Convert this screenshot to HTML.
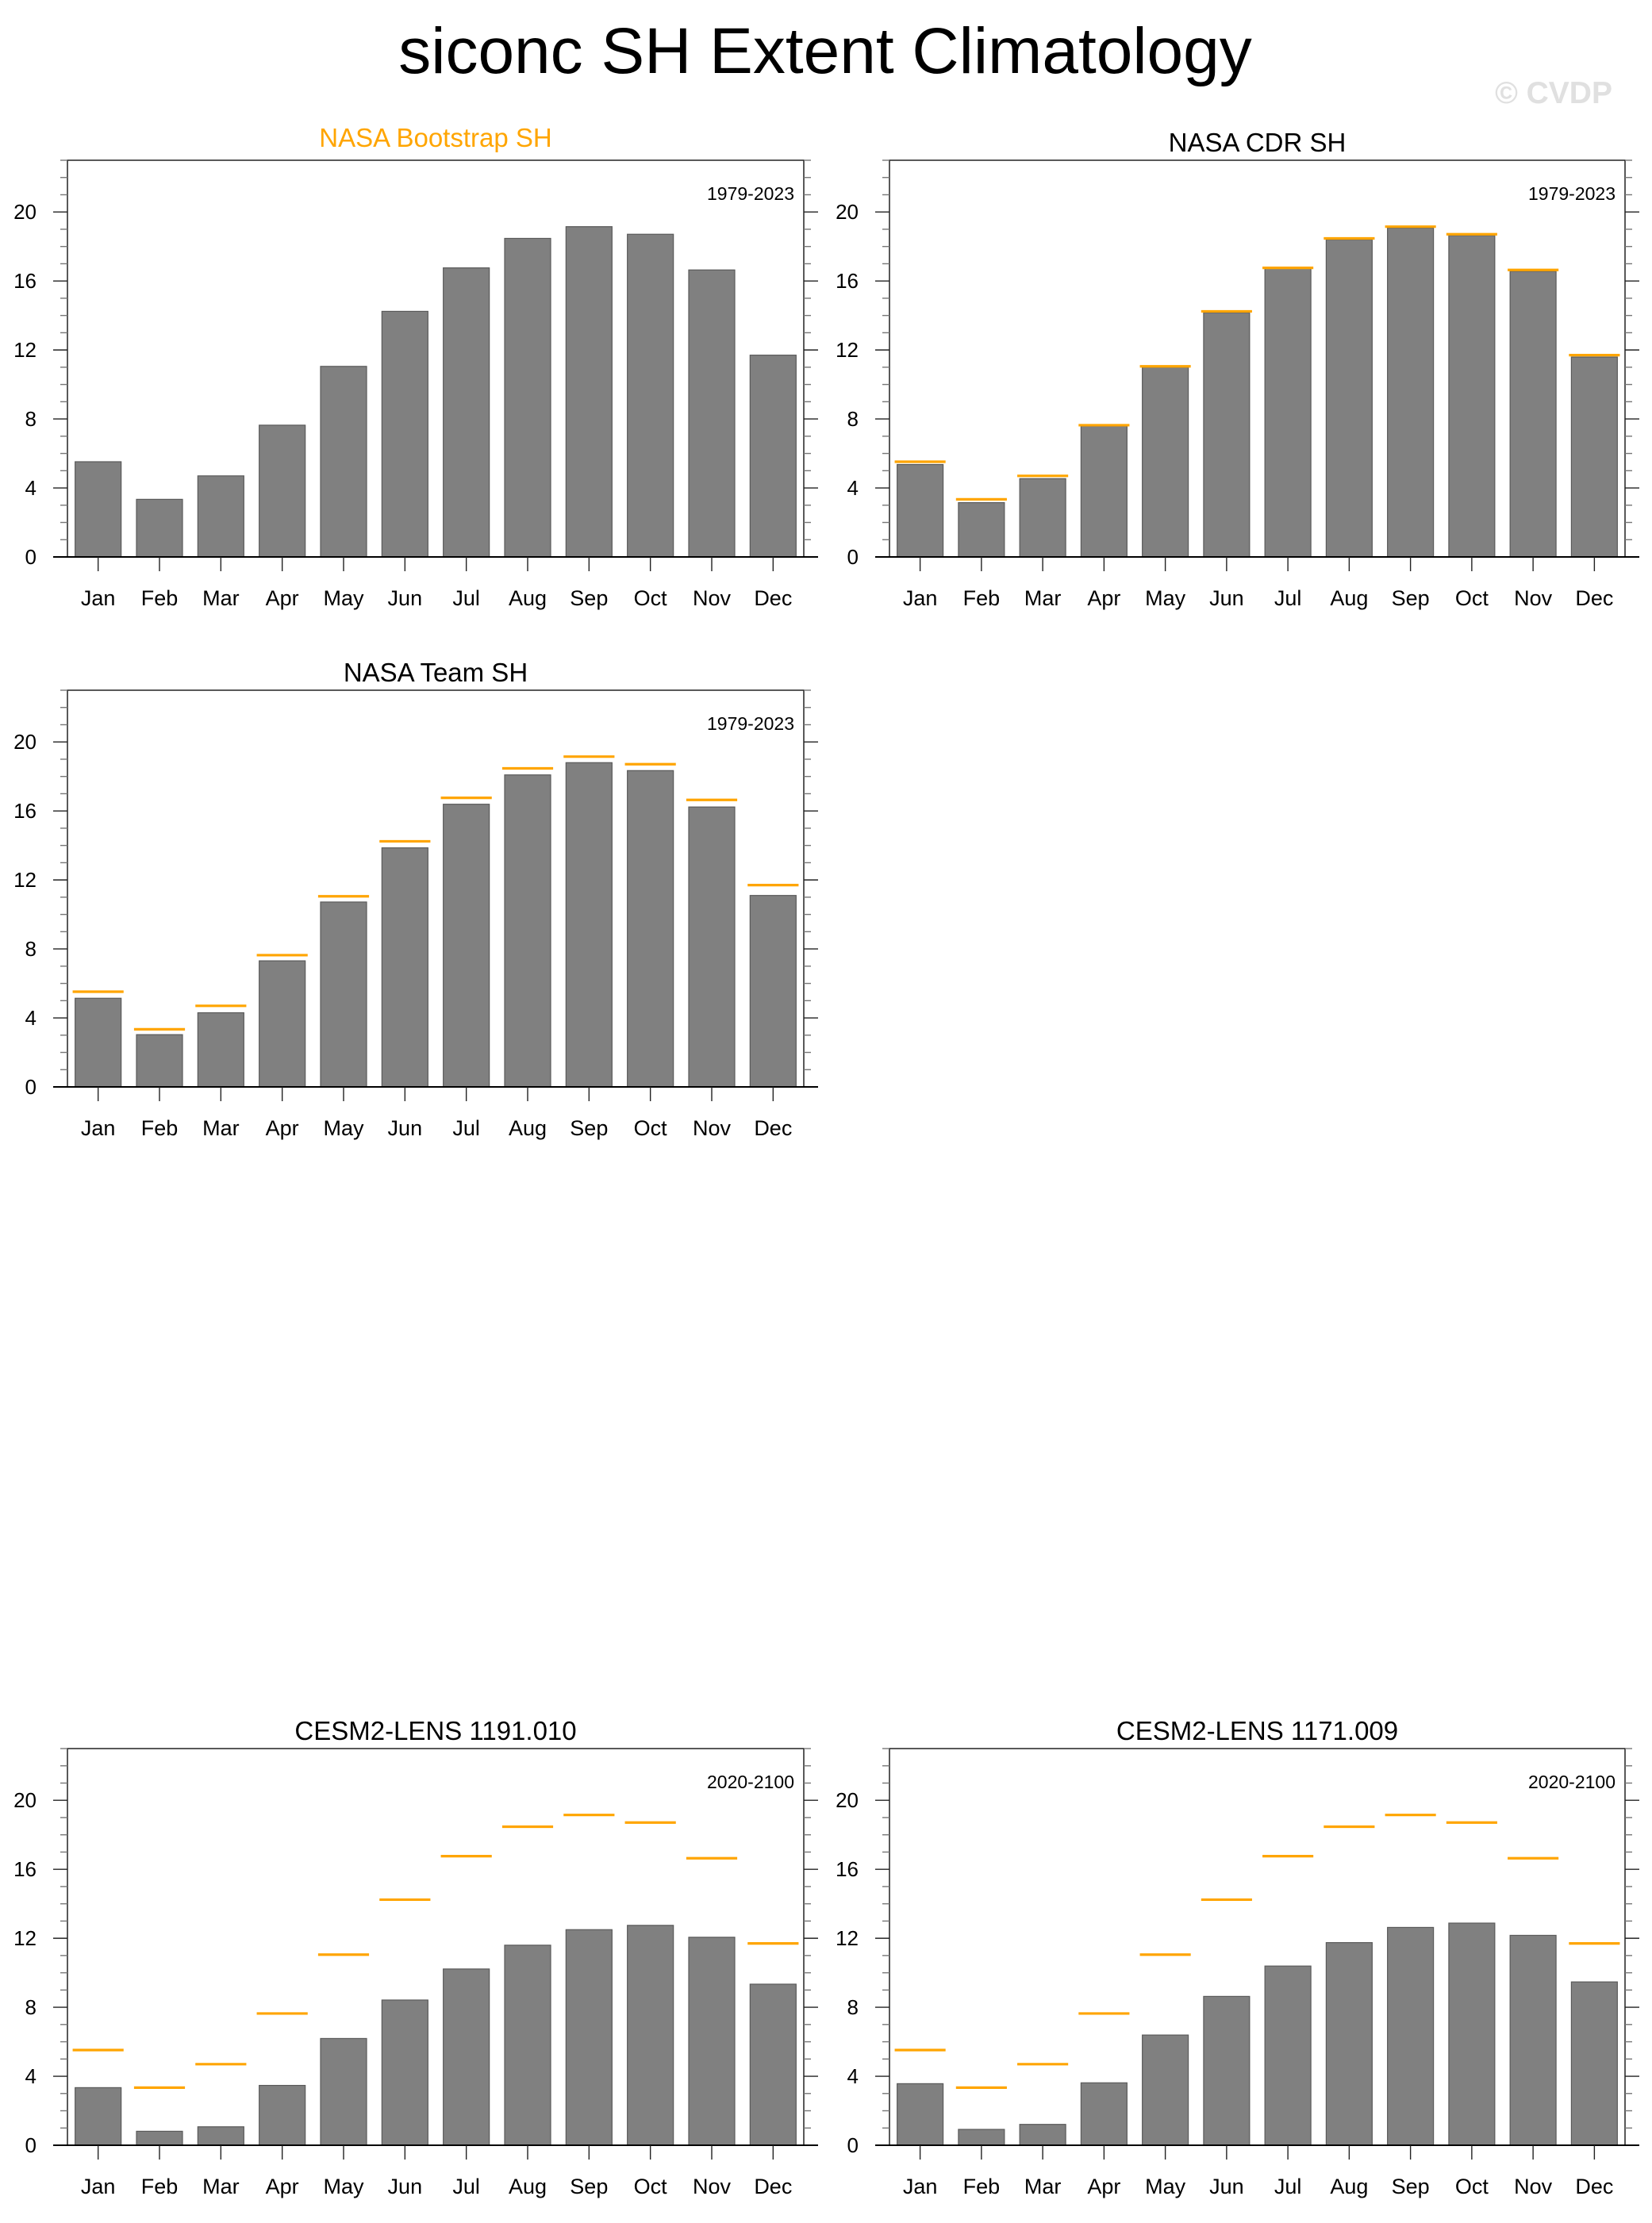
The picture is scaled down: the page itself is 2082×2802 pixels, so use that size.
<!DOCTYPE html>
<html><head><meta charset="utf-8"><title>siconc SH Extent Climatology</title>
<style>
html,body{margin:0;padding:0;background:#fff;}
svg{display:block;font-family:"Liberation Sans",Arial,sans-serif;}
</style></head>
<body>
<svg id="chart" width="2082" height="2802" viewBox="0 0 2082 2802" xmlns="http://www.w3.org/2000/svg">
<text x="1040" y="92" font-size="82" text-anchor="middle" fill="#000">siconc SH Extent Climatology</text>
<text x="2032" y="130" font-size="39" font-weight="bold" text-anchor="end" fill="#e0e0e0">© CVDP</text>
</svg>
<script>
const months = ["Jan","Feb","Mar","Apr","May","Jun","Jul","Aug","Sep","Oct","Nov","Dec"];
const yTicks = [0,4,8,12,16,20];
const refBootstrap = [5.52,3.34,4.70,7.64,11.05,14.24,16.76,18.47,19.15,18.71,16.64,11.70];
const valCDR = [5.36,3.15,4.54,7.59,11.00,14.17,16.73,18.40,19.08,18.64,16.57,11.59];
const valTeam = [5.14,3.03,4.30,7.31,10.72,13.86,16.39,18.09,18.80,18.34,16.23,11.10];
const valCesm1191 = [3.34,0.81,1.07,3.47,6.19,8.42,10.22,11.60,12.50,12.75,12.06,9.34];
const valCesm1171 = [3.57,0.92,1.21,3.62,6.39,8.63,10.39,11.75,12.63,12.88,12.17,9.47];
const yMax = 23;

const NS = "http://www.w3.org/2000/svg";
const svg = document.getElementById('chart');
function mk(tag, attrs, parent){
  const e = document.createElementNS(NS, tag);
  for (const k in attrs) e.setAttribute(k, attrs[k]);
  (parent||svg).appendChild(e);
  return e;
}

function panel(slug, title, titleColor, titleGap, period, vals, showRef, x0, x1, top){
  const bottom = top + 500;
  const g = mk('g', {});
  
  
  const xs = i => x0 + (i + 0.5) * (x1 - x0) / 12;
  const unit = (x1 - x0) / 12;
  const ys = v => bottom - v * (bottom - top) / yMax;

  const t = mk('text', {x:(x0+x1)/2, y:top-titleGap, 'font-size':33, 'text-anchor':'middle', fill:titleColor}, g);
  t.textContent = title;
  
  

  if (vals) {
    vals.forEach((v, i) => {
      const r = mk('rect', {x:xs(i)-unit*0.375, y:ys(v), width:unit*0.75, height:ys(0)-ys(v), fill:'#808080', stroke:'#5a5a5a', 'stroke-width':1.2}, g);
      
      
    });
  }
  if (showRef) {
    refBootstrap.forEach((v, i) => {
      const l = mk('line', {x1:xs(i)-unit*0.415, x2:xs(i)+unit*0.415, y1:ys(v), y2:ys(v), stroke:'#ffa500', 'stroke-width':3.2}, g);
      
      
    });
  }

  const f = mk('rect', {x:x0, y:top, width:x1-x0, height:bottom-top, fill:'none', stroke:'#222', 'stroke-width':1.5}, g);
  
  

  for (let v = 0; v <= yMax; v++) {
    const major = v % 4 === 0;
    const len = major ? 18 : 9;
    const col = major ? '#222' : '#777';
    mk('line', {x1:x0, x2:x0-len, y1:ys(v), y2:ys(v), stroke:col, 'stroke-width':1.4}, g);
    mk('line', {x1:x1, x2:x1+len, y1:ys(v), y2:ys(v), stroke:col, 'stroke-width':1.4}, g);
  }
  yTicks.forEach(v => {
    const tl = mk('text', {x:x0-39, y:ys(v)+9, 'font-size':26, 'text-anchor':'end', fill:'#000'}, g);
    tl.textContent = String(v);
    
    
  });
  mk('line', {x1:x0-18, x2:x1+18, y1:bottom, y2:bottom, stroke:'#000', 'stroke-width':2}, g);
  months.forEach((m, i) => {
    mk('line', {x1:xs(i), x2:xs(i), y1:bottom, y2:bottom+18, stroke:'#222', 'stroke-width':1.4}, g);
    const ml = mk('text', {x:xs(i), y:bottom+61, 'font-size':27, 'text-anchor':'middle', fill:'#000'}, g);
    ml.textContent = m;
    
    
  });
  const p = mk('text', {x:x1-12, y:top+50, 'font-size':23, 'text-anchor':'end', fill:'#000'}, g);
  p.textContent = period;
  
  
}

panel('nasa-bootstrap', 'NASA Bootstrap SH', '#ffa500', 17, '1979-2023', refBootstrap, false, 85, 1013, 202);
panel('nasa-cdr', 'NASA CDR SH', '#000', 11, '1979-2023', valCDR, true, 1121, 2048, 202);
panel('nasa-team', 'NASA Team SH', '#000', 11, '1979-2023', valTeam, true, 85, 1013, 870);
panel('cesm2-1191', 'CESM2-LENS 1191.010', '#000', 11, '2020-2100', valCesm1191, true, 85, 1013, 2204);
panel('cesm2-1171', 'CESM2-LENS 1171.009', '#000', 11, '2020-2100', valCesm1171, true, 1121, 2048, 2204);
</script>
</body></html>
